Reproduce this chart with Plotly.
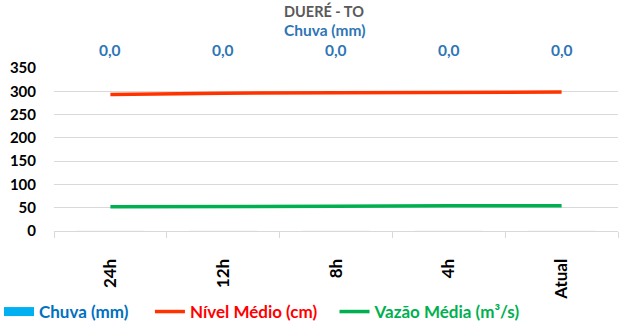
import plotly.graph_objects as go

# Station readings for the last 24 hours
categorias = ["24h", "12h", "8h", "4h", "Atual"]
chuva_mm = [0.0, 0.0, 0.0, 0.0, 0.0]
nivel_cm = [293, 296, 297, 298, 298.5]
vazao_m3s = [52, 52, 53, 54, 54]
y_ticks = [0, 50, 100, 150, 200, 250, 300, 350]

FONT = "Lato, 'Open Sans', sans-serif"
AZUL_TXT = "#2E75B6"
NB = "\u00a0"

PLOT_TOP, PLOT_BOTTOM, PLOT_LEFT, PLOT_RIGHT = 68, 231, 54, 618
PH = PLOT_BOTTOM - PLOT_TOP
PW = PLOT_RIGHT - PLOT_LEFT


def py(px):
    """Pixel row -> paper y."""
    return (PLOT_BOTTOM - px) / PH


def pxx(px):
    """Pixel column -> paper x."""
    return (px - PLOT_LEFT) / PW


fig = go.Figure()

# Rain bars (secondary scale), legend shown through a wide swatch entry
fig.add_trace(go.Bar(
    x=categorias, y=chuva_mm, yaxis="y2", marker_color="#00B0F0",
    showlegend=False, legendgroup="chuva",
))
fig.add_trace(go.Scatter(
    x=[None], y=[None], mode="lines", legendgroup="chuva",
    name="<span style='color:#0070C0'>Chuva (mm)</span>" + NB * 4,
    line=dict(color="#00B0F0", width=9),
))
fig.add_trace(go.Scatter(
    x=categorias, y=nivel_cm, mode="lines",
    name="<span style='color:#FF0000'>Nível Médio (cm)</span>" + NB * 3,
    line=dict(color="#FF3300", width=3.5),
))
fig.add_trace(go.Scatter(
    x=categorias, y=vazao_m3s, mode="lines",
    name="<span style='color:#00B050'>Vazão Média (m³/s)</span>",
    line=dict(color="#00B050", width=3.5),
))

# Rain totals written above each period
for cat, val in zip(categorias, chuva_mm):
    fig.add_annotation(
        x=cat, xref="x", y=py(50), yref="paper", yanchor="middle",
        text=f"{val:.1f}".replace(".", ","), showarrow=False,
        font=dict(family=FONT, size=15.5, color=AZUL_TXT, weight="bold"),
    )

fig.add_annotation(
    x=pxx(324), xref="paper", y=py(11), yref="paper",
    text="DUERÉ - TO", showarrow=False, yanchor="middle",
    font=dict(family=FONT, size=14.5, color="#595959", weight="bold"),
)
fig.add_annotation(
    x=pxx(325), xref="paper", y=py(30), yref="paper",
    text="Chuva (mm)", showarrow=False, yanchor="middle",
    font=dict(family=FONT, size=15.5, color=AZUL_TXT, weight="bold"),
)

fig.update_layout(
    width=620, height=325,
    margin=dict(l=PLOT_LEFT, r=620 - PLOT_RIGHT, t=PLOT_TOP, b=325 - PLOT_BOTTOM,
                autoexpand=False),
    paper_bgcolor="white", plot_bgcolor="white",
    font=dict(family=FONT, size=12, color="black"),
    showlegend=True,
    legend=dict(
        orientation="h", x=pxx(-1), xanchor="left", y=py(312), yanchor="middle",
        font=dict(family=FONT, size=17, weight="bold"),
        itemwidth=30, tracegroupgap=0,
    ),
    xaxis=dict(
        type="category", tickangle=-90, tickson="boundaries",
        ticks="outside", ticklen=6, tickcolor="#D9D9D9",
        showline=True, linecolor="#D9D9D9", linewidth=1,
        showgrid=False, ticklabelstandoff=20, automargin=False,
        tickfont=dict(family=FONT, size=17, color="black", weight="bold"),
    ),
    yaxis=dict(
        range=[0, 350], tickvals=y_ticks, showgrid=True,
        gridcolor="#D9D9D9", gridwidth=1, zeroline=False,
        ticks="outside", ticklen=14, tickcolor="rgba(0,0,0,0)",
        automargin=False,
        tickfont=dict(family=FONT, size=15, color="black", weight="bold"),
    ),
    yaxis2=dict(
        overlaying="y", side="right", range=[0, 1], visible=False,
    ),
    bargap=0.4,
)

fig.write_html("out.html")
